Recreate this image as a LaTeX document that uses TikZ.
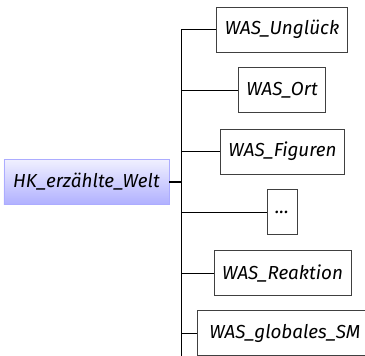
\documentclass[tikz,border=0pt]{standalone}
\usepackage{fontspec}
\setmainfont{Fira Sans}
\definecolor{rootfilltop}{RGB}{240,240,255}
\definecolor{rootfillbottom}{RGB}{176,176,255}
\definecolor{rootborder}{RGB}{172,172,255}
\definecolor{boxborder}{RGB}{64,64,64}

\begin{document}
\begin{tikzpicture}[x={(0.025cm,0cm)}, y={(0cm,-0.025cm)},
    every node/.style={font=\fontsize{13.4}{16}\selectfont\itshape, inner xsep=0.2cm, minimum height=1.125cm},
    rootbox/.style={draw=rootborder, top color=rootfilltop, bottom color=rootfillbottom, minimum width=4.125cm},
    wasbox/.style={draw=boxborder, fill=white},
    branch/.style={draw=black, line width=0.6pt}]

    % page
    \useasboundingbox (0,0) rectangle (365,355);
    \clip (0,0) rectangle (365,355);

    % constants
    \def\xtrunk{181}

    % main topic
    \node[rootbox] (hk) at (86.5,182) {HK\_erzählte\_Welt};
    \coordinate (join) at (\xtrunk,182);
    \draw[line width=1.4pt] (hk.east) -- (join);

    % sub topics
    \node[wasbox] (unglueck) at (282,29.5)  {WAS\_Unglück};
    \node[wasbox] (ort)      at (282,90)    {WAS\_Ort};
    \node[wasbox] (figuren)  at (282.5,151.5) {WAS\_Figuren};
    \node[wasbox] (weitere)  at (282,212)   {...};
    \node[wasbox] (reaktion) at (282.5,273) {WAS\_Reaktion};
    \node[wasbox, anchor=west, minimum width=4.4cm, text width=3.8cm] (globales) at (197,333) {WAS\_globales\_SM};

    % trunk
    \coordinate (top) at (\xtrunk,29.5);
    \coordinate (bottom) at (\xtrunk,360);
    \draw[branch] (top) -- (bottom);

    % branches
    \foreach \child in {unglueck,ort,figuren,weitere,reaktion,globales}
        \draw[branch] (\child.west) -- (\child.west -| top);

\end{tikzpicture}
\end{document}
